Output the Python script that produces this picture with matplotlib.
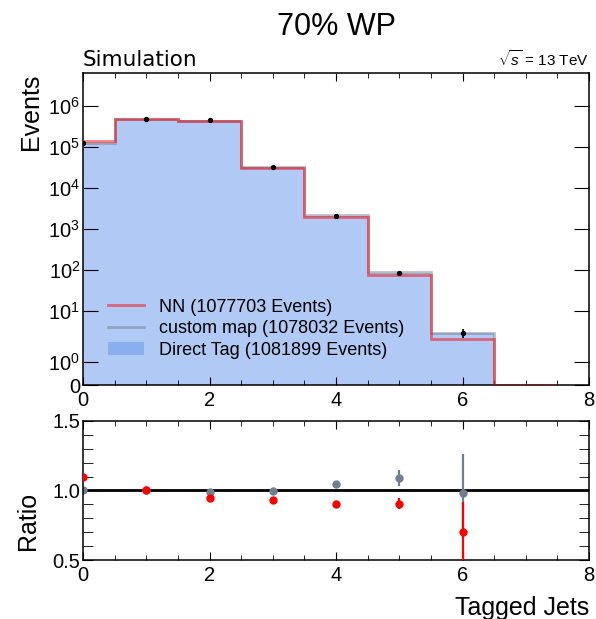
import matplotlib
matplotlib.use('Agg')
import matplotlib.pyplot as plt
import numpy as np
from matplotlib.ticker import MultipleLocator, NullLocator, FixedLocator

plt.rcParams['font.family'] = ['Liberation Sans', 'DejaVu Sans']
plt.rcParams['mathtext.fontset'] = 'custom'
plt.rcParams['mathtext.rm'] = 'Liberation Sans'
plt.rcParams['mathtext.it'] = 'Liberation Sans:italic'

# histogram data (bins centred on 0..7 tagged jets)
edges = np.arange(-0.5, 8.5, 1.0)
centers = np.arange(0, 7)
direct_tag = [1.27e5, 4.72e5, 4.39e5, 3.21e4, 2.10e3, 83, 2.86, 0]
direct_err = [360, 690, 660, 180, 46, 5, 0.65]
nn = [1.39e5, 4.74e5, 4.15e5, 2.99e4, 1.89e3, 75, 2.0, 0]
custom_map = [1.27e5, 4.72e5, 4.35e5, 3.19e4, 2.20e3, 90, 2.8, 0]

# ratio panel
ratio_nn = [1.096, 1.005, 0.945, 0.930, 0.900, 0.905, 0.700]
ratio_nn_err = [0.004, 0.003, 0.003, 0.006, 0.012, 0.04, 0.215]
ratio_custom = [1.000, 1.000, 0.990, 0.995, 1.048, 1.090, 0.980]
ratio_custom_err = [0.004, 0.003, 0.003, 0.006, 0.012, 0.06, 0.285]

labels = ['NN (1077703 Events)', 'custom map (1078032 Events)', 'Direct Tag (1081899 Events)']

fig = plt.figure(figsize=(5.96, 6.19), dpi=100)
ax = fig.add_axes([0.1393, 0.378, 0.849, 0.5036])
rax = fig.add_axes([0.1393, 0.0953, 0.849, 0.2246])

ax.stairs(direct_tag, edges, fill=True, color='cornflowerblue', alpha=0.5, label=labels[2], zorder=1)
ax.stairs(custom_map, edges, color='slategrey', alpha=0.5, lw=2.0, label=labels[1], zorder=2)
ax.stairs(nn, edges, color='red', alpha=0.5, lw=2.0, label=labels[0], zorder=3)
ax.errorbar(centers, direct_tag[:7], yerr=direct_err, fmt='o', color='black', ms=2.8,
            elinewidth=1.2, capsize=0, zorder=4)

ax.set_yscale('symlog', linthresh=2, linscale=1)
ax.set_ylim(0, 6.2e6)
ax.set_xlim(0, 8)
yt = [0, 1, 10, 100, 1e3, 1e4, 1e5, 1e6]
ax.yaxis.set_major_locator(FixedLocator(yt))
ax.set_yticklabels(['0'] + [f'$10^{{{i}}}$' for i in range(7)])
ax.yaxis.set_minor_locator(NullLocator())
ax.xaxis.set_major_locator(MultipleLocator(2))
ax.xaxis.set_minor_locator(MultipleLocator(0.5))
ax.tick_params(which='both', direction='in', top=True, right=True, labelsize=14.5, pad=2)
ax.tick_params(axis='x', which='both', pad=4)
ax.tick_params(axis='y', which='major', length=11)
ax.tick_params(axis='x', which='major', length=6)
ax.tick_params(axis='x', which='minor', length=3.5)
ax.set_ylabel('Events', fontsize=18, loc='top')

h, l = ax.get_legend_handles_labels()
order = [l.index(t) for t in labels]
ax.legend([h[i] for i in order], [l[i] for i in order], loc='upper left',
          bbox_to_anchor=(0.018, 0.329), frameon=False, fontsize=13,
          labelspacing=0.25, handlelength=2.0, handletextpad=0.8)

ax.text(0, 1.01, 'Simulation', transform=ax.transAxes, fontsize=15.5,
        family='DejaVu Sans', ha='left', va='bottom')
ax.text(1, 1.015, r'$\sqrt{s}$ = 13 TeV', transform=ax.transAxes, fontsize=11,
        ha='right', va='bottom')
fig.text(0.5637, 0.944, '70% WP', fontsize=22, ha='center', va='baseline')

# ratio
rax.axhline(1.0, color='black', lw=2, zorder=1)
rax.errorbar(centers, ratio_custom, yerr=ratio_custom_err, fmt='o', color='slategrey',
             ms=5, elinewidth=1.6, capsize=0, zorder=2)
rax.errorbar(centers, ratio_nn, yerr=ratio_nn_err, fmt='o', color='red',
             ms=5, elinewidth=1.6, capsize=0, zorder=3)
rax.set_xlim(0, 8)
rax.set_ylim(0.5, 1.5)
rax.xaxis.set_major_locator(MultipleLocator(2))
rax.xaxis.set_minor_locator(MultipleLocator(0.5))
rax.yaxis.set_major_locator(MultipleLocator(0.5))
rax.yaxis.set_minor_locator(MultipleLocator(0.1))
rax.tick_params(which='both', direction='in', top=True, right=True, labelsize=14.5, pad=2)
rax.tick_params(axis='x', which='both', pad=4)
rax.tick_params(axis='y', which='both', length=7)
rax.tick_params(axis='x', which='major', length=6)
rax.tick_params(axis='x', which='minor', length=3.5)
rax.set_ylabel('Ratio', fontsize=18)
rax.yaxis.set_label_coords(-0.085, 0.28)
rax.set_xlabel('Tagged Jets', fontsize=18, loc='right', labelpad=8)

for a in (ax, rax):
    for s in a.spines.values():
        s.set_linewidth(1.1)

fig.savefig('out.png', dpi=100)
